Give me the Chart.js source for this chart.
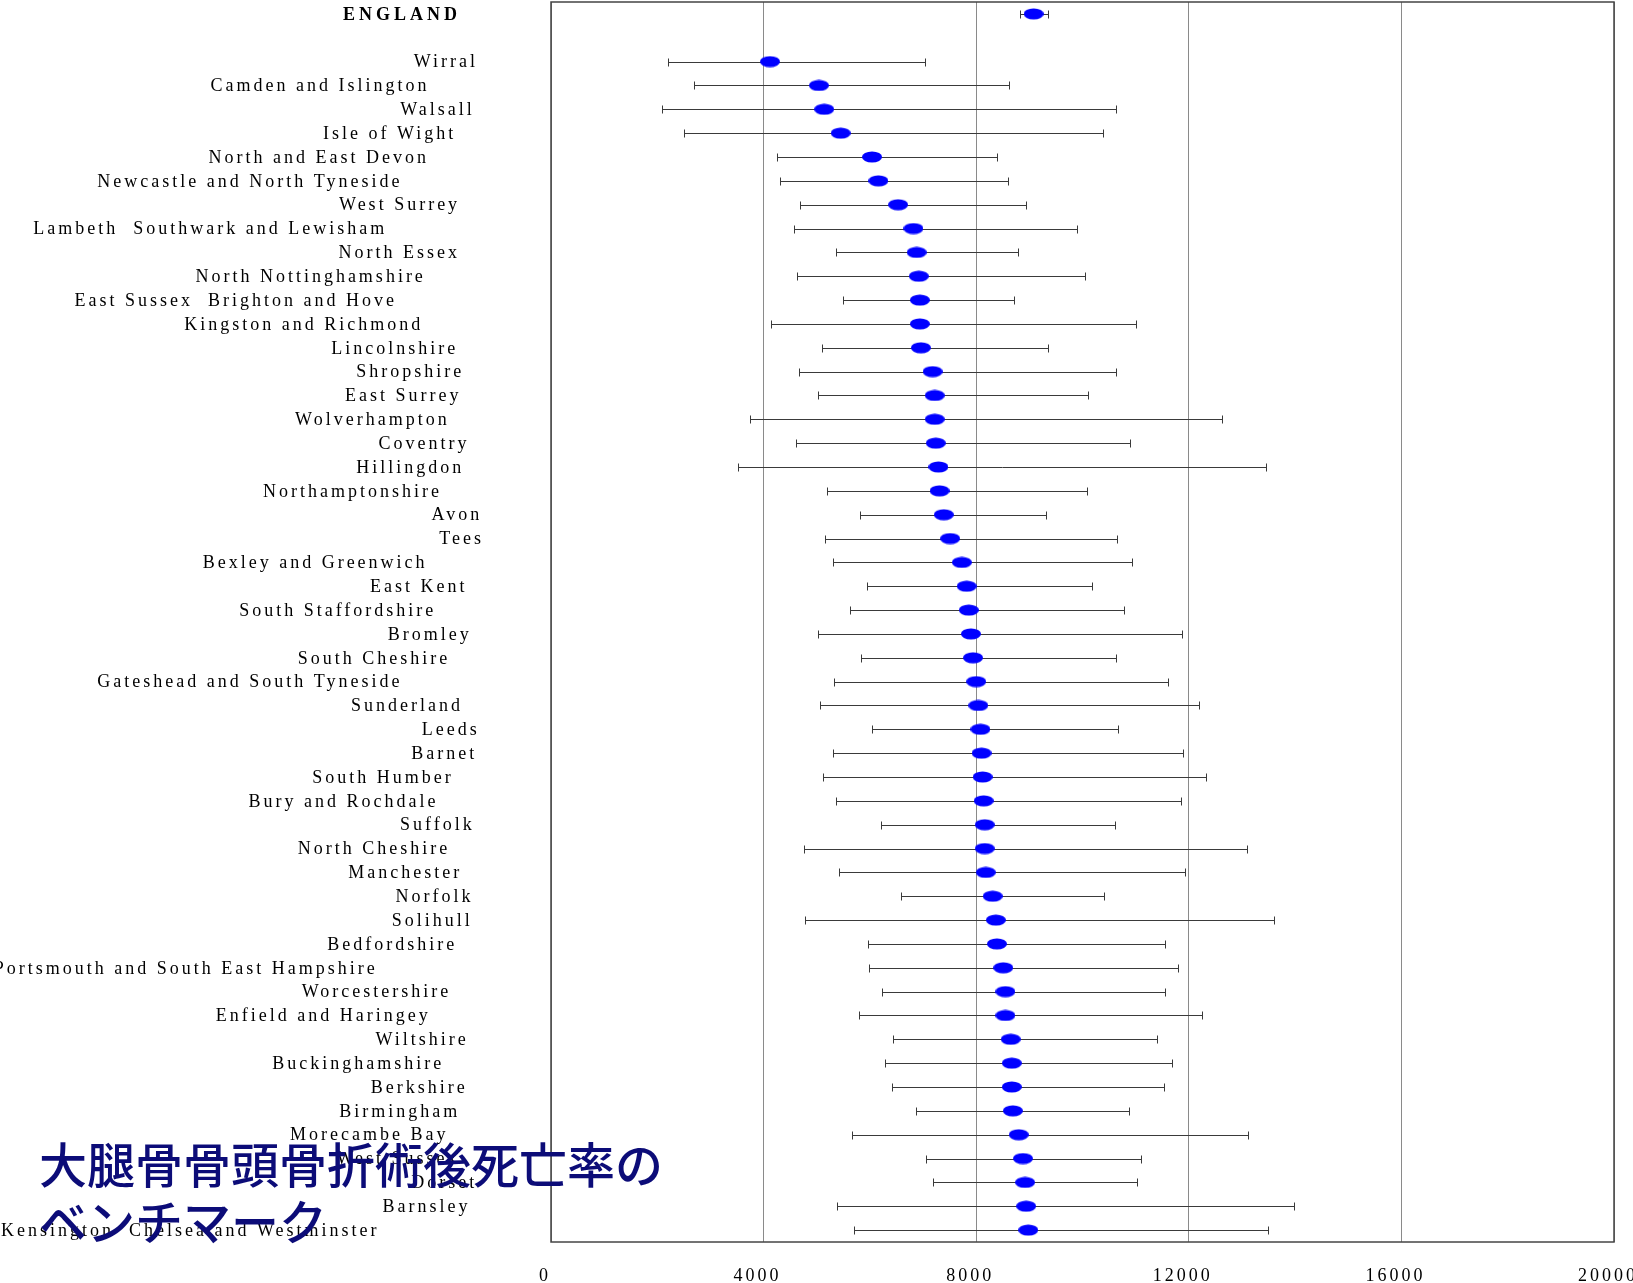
<!DOCTYPE html>
<html>
<head>
<meta charset="utf-8">
<script src="https://cdn.jsdelivr.net/npm/chart.js@4.4.1/dist/chart.umd.min.js"></script>
<style>
  html, body { margin: 0; padding: 0; background: #fff; }
  #wrap { width: 1633px; height: 1283px; position: relative; }
</style>
</head>
<body>
<div id="wrap"><canvas id="benchChart"></canvas></div>
<script>
// rows top to bottom, blank row after the national figure
var regions = ["ENGLAND", "", "Wirral", "Camden and Islington", "Walsall", "Isle of Wight",
  "North and East Devon", "Newcastle and North Tyneside", "West Surrey",
  "Lambeth  Southwark and Lewisham", "North Essex", "North Nottinghamshire",
  "East Sussex  Brighton and Hove", "Kingston and Richmond", "Lincolnshire", "Shropshire",
  "East Surrey", "Wolverhampton", "Coventry", "Hillingdon", "Northamptonshire", "Avon", "Tees",
  "Bexley and Greenwich", "East Kent", "South Staffordshire", "Bromley", "South Cheshire",
  "Gateshead and South Tyneside", "Sunderland", "Leeds", "Barnet", "South Humber",
  "Bury and Rochdale", "Suffolk", "North Cheshire", "Manchester", "Norfolk", "Solihull",
  "Bedfordshire", "Portsmouth and South East Hampshire", "Worcestershire",
  "Enfield and Haringey", "Wiltshire", "Buckinghamshire", "Berkshire", "Birmingham",
  "Morecambe Bay", "West Sussex", "Dorset", "Barnsley", "Kensington  Chelsea and Westminster"];

var centres = [9080, null,
  4120, 5040, 5140, 5450, 6040, 6160, 6530, 6820, 6880, 6920,
  6940, 6940, 6960, 7180, 7220, 7220, 7240, 7290, 7310, 7390,
  7510, 7730, 7820, 7860, 7900, 7940, 8000, 8040, 8080, 8100,
  8120, 8140, 8160, 8160, 8180, 8310, 8370, 8390, 8510, 8550,
  8550, 8650, 8670, 8670, 8690, 8800, 8880, 8920, 8940, 8980];

var lowerCI = [8820, null,
  2200, 2690, 2080, 2510, 4260, 4310, 4690, 4570, 5370, 4630,
  5490, 4140, 5100, 4670, 5020, 3750, 4610, 3510, 5200, 5820,
  5160, 5310, 5940, 5630, 5020, 5840, 5330, 5060, 6040, 5310,
  5120, 5370, 6200, 4760, 5410, 6590, 4780, 5960, 5980, 6220,
  5800, 6430, 6290, 6410, 6860, 5670, 7060, 7180, 5390, 5710];

var upperCI = [9350, null,
  7040, 8610, 10630, 10390, 8390, 8590, 8940, 9900, 8780, 10040,
  8710, 11000, 9350, 10630, 10100, 12630, 10900, 13450, 10080, 9310,
  10650, 10940, 10180, 10780, 11880, 10630, 11610, 12200, 10670, 11900,
  12330, 11860, 10610, 13100, 11920, 10410, 13610, 11550, 11800, 11550,
  12250, 11410, 11690, 11530, 10880, 13120, 11100, 11020, 13980, 13490];

var xTicks = [0, 4000, 8000, 12000, 16000, 20000];
var titleLines = ["大腿骨骨頭骨折術後死亡率の", "ベンチマーク"];

// blue oval marker
var oval = document.createElement("canvas");
oval.width = 20;
oval.height = 12;
var octx = oval.getContext("2d");
octx.fillStyle = "#0000ff";
octx.beginPath();
octx.ellipse(10, 6, 10, 5.6, 0, 0, Math.PI * 2);
octx.fill();

const errorBars = {
  id: "errorBars",
  beforeDatasetsDraw(chart) {
    const ctx = chart.ctx, xs = chart.scales.x, ys = chart.scales.y;
    ctx.save();
    ctx.strokeStyle = "#3a3a3a";
    ctx.lineWidth = 1;
    for (var i = 0; i < regions.length; i++) {
      if (centres[i] === null) continue;
      var y = Math.round(ys.getPixelForValue(i)) + 0.5;
      var x1 = Math.round(xs.getPixelForValue(lowerCI[i])) + 0.5;
      var x2 = Math.round(xs.getPixelForValue(upperCI[i])) + 0.5;
      ctx.beginPath();
      ctx.moveTo(x1, y); ctx.lineTo(x2, y);
      ctx.moveTo(x1, y - 4); ctx.lineTo(x1, y + 4);
      ctx.moveTo(x2, y - 4); ctx.lineTo(x2, y + 4);
      ctx.stroke();
    }
    ctx.restore();
  }
};

const spacedText = {
  id: "spacedText",
  beforeDraw(chart) {
    chart.ctx.letterSpacing = "3px";
  },
  afterDraw(chart) {
    const ctx = chart.ctx, ys = chart.scales.y, area = chart.chartArea;
    ctx.save();
    // frame round the plot
    ctx.strokeStyle = "#444";
    ctx.lineWidth = 1.5;
    ctx.strokeRect(area.left, area.top, area.right - area.left, area.bottom - area.top);

    // region names, anchored the odd way the original sheet did it
    var anchor = area.left - 53;
    ctx.fillStyle = "#000";
    ctx.textBaseline = "middle";
    ctx.textAlign = "left";
    for (var i = 0; i < regions.length; i++) {
      if (!regions[i]) continue;
      ctx.letterSpacing = i === 0 ? "4px" : "3px";
      ctx.font = (i === 0 ? "bold " : "") + '18px "Liberation Serif", serif';
      var w = ctx.measureText(regions[i]).width;
      ctx.fillText(regions[i], anchor - 1.313 * w, ys.getPixelForValue(i) + 1);
    }

    // title pasted over the bottom left corner
    ctx.letterSpacing = "0px";
    ctx.fillStyle = "#0c0c78";
    ctx.font = '500 48px "Noto Sans CJK JP", sans-serif';
    ctx.fillText(titleLines[0], 39, 1165);
    ctx.fillText(titleLines[1], 39, 1222);
    ctx.restore();
  }
};

new Chart(document.getElementById("benchChart"), {
  type: "line",
  data: {
    labels: regions,
    datasets: [{
      data: centres,
      showLine: false,
      pointStyle: oval,
      pointRadius: 10,
      pointHoverRadius: 10
    }]
  },
  options: {
    indexAxis: "y",
    responsive: true,
    maintainAspectRatio: false,
    devicePixelRatio: 1,
    animation: false,
    events: [],
    layout: { autoPadding: false, padding: { left: 551, right: 19, top: 2, bottom: 0 } },
    plugins: { legend: { display: false }, tooltip: { enabled: false } },
    scales: {
      x: {
        type: "linear",
        min: 0,
        max: 20000,
        afterBuildTicks: (s) => { s.ticks = xTicks.map((v) => ({ value: v })); },
        afterFit: (s) => { s.paddingLeft = 0; s.paddingRight = 0; s.height = 41; },
        grid: { color: "#8a8a8a", lineWidth: 1, drawTicks: false },
        border: { display: false },
        ticks: {
          padding: 23,
          labelOffset: -6,
          color: "#000",
          maxRotation: 0,
          autoSkip: false,
          callback: (v) => String(v),
          font: { family: '"Liberation Serif", serif', size: 18 }
        }
      },
      y: {
        type: "category",
        display: false,
        offset: true
      }
    }
  },
  plugins: [errorBars, spacedText]
});
</script>
</body>
</html>
